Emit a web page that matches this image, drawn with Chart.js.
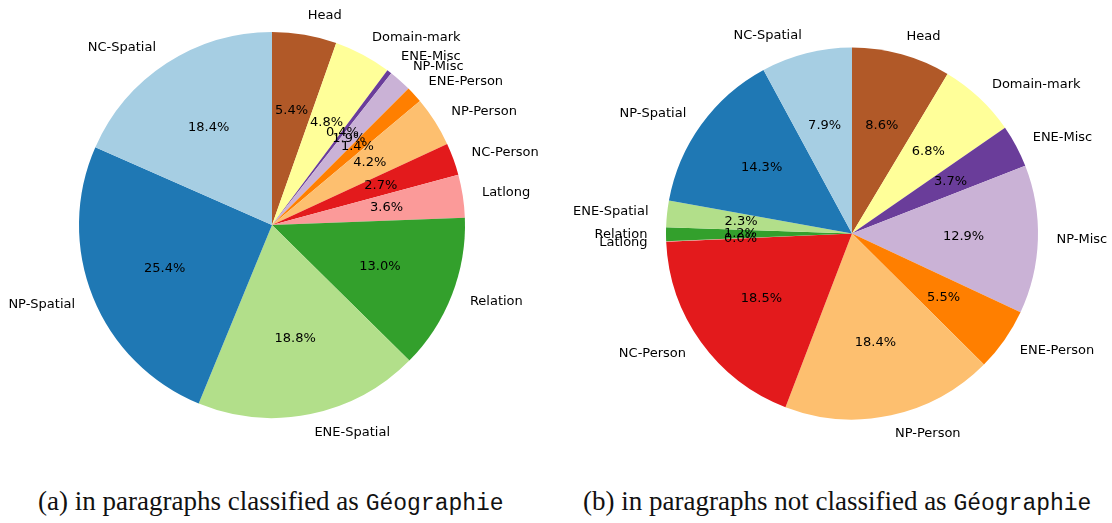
<!doctype html>
<html>

<head>
  <meta charset="utf-8">
  <script src="https://cdn.jsdelivr.net/npm/chart.js@4.4.0/dist/chart.umd.min.js"></script>
  <style>
    body { margin: 0; background: #fff; width: 1112px; height: 523px; position: relative; overflow: hidden; }
    canvas { position: absolute; top: 0; }
    #chart-a { left: 0; }
    #chart-b { left: 556px; }
    .caption { position: absolute; top: 486px; line-height: 30px; font-family: "Liberation Serif", serif; font-size: 27px; color: #111; white-space: nowrap; }
    .caption tt { font-family: "Liberation Mono", monospace; font-size: 23px; }
    #cap-a { left: 38px; }
    #cap-b { left: 583px; }
  </style>
</head>

<body>
  <canvas id="chart-a" width="556" height="470"></canvas>
  <canvas id="chart-b" width="556" height="470"></canvas>
  <div class="caption" id="cap-a">(a) in paragraphs classified as <tt>Géographie</tt></div>
  <div class="caption" id="cap-b">(b) in paragraphs not classified as <tt>Géographie</tt></div>
  <script>
    // ordre horaire depuis le haut
    const categories = ['Head', 'Domain-mark', 'ENE-Misc', 'NP-Misc', 'ENE-Person', 'NP-Person',
      'NC-Person', 'Latlong', 'Relation', 'ENE-Spatial', 'NP-Spatial', 'NC-Spatial'];
    const valuesGeo = [5.4, 4.8, 0.4, 1.9, 1.4, 4.2, 2.7, 3.6, 13.0, 18.8, 25.4, 18.4];
    const valuesNotGeo = [8.6, 6.8, 3.7, 12.9, 5.5, 18.4, 18.5, 0.04, 1.2, 2.3, 14.3, 7.9];
    const colors = ['#b15928', '#ffff99', '#6a3d9a', '#cab2d6', '#ff7f00', '#fdbf6f',
      '#e31a1c', '#fb9a99', '#33a02c', '#b2df8a', '#1f78b4', '#a6cee3'];

    const labelsPlugin = {
      id: 'pie_labels',
      afterDatasetsDraw: (chart) => {
        const ctx = chart.ctx;
        const meta = chart.getDatasetMeta(0);
        const values = chart.data.datasets[0].data;
        ctx.save();
        ctx.font = '13px "DejaVu Sans"';
        ctx.fillStyle = '#000';
        ctx.textBaseline = 'middle';
        // dessiner dans l'ordre inverse comme matplotlib
        for (let i = meta.data.length - 1; i >= 0; i--) {
          const arc = meta.data[i];
          const mid = (arc.startAngle + arc.endAngle) / 2;
          const r = arc.outerRadius;
          const cos = Math.cos(mid);
          const sin = Math.sin(mid);
          const lx = arc.x + 1.1 * r * cos;
          const ly = arc.y + 1.1 * r * sin;
          ctx.textAlign = cos > 0 ? 'left' : 'right';
          ctx.fillText(chart.data.labels[i], lx, ly);
          ctx.textAlign = 'center';
          ctx.fillText(values[i].toFixed(1) + '%', arc.x + 0.6 * r * cos, arc.y + 0.6 * r * sin);
        }
        ctx.restore();
      }
    };

    function makePie(id, values, radius, padding) {
      return new Chart(document.getElementById(id), {
        type: 'pie',
        data: {
          labels: categories,
          datasets: [{
            data: values,
            backgroundColor: colors,
            borderWidth: 0,
            hoverBorderWidth: 0,
            hoverOffset: 0,
            radius: radius
          }]
        },
        options: {
          responsive: false,
          animation: false,
          events: [],
          layout: { padding },
          plugins: { legend: { display: false }, tooltip: { enabled: false } }
        },
        plugins: [labelsPlugin]
      });
    }

    makePie('chart-a', valuesGeo, 193, { left: 0, right: 12, top: 0, bottom: 20 });
    makePie('chart-b', valuesNotGeo, 186, { left: 36, right: 0, top: 0, bottom: 3 });
  </script>
</body>

</html>
